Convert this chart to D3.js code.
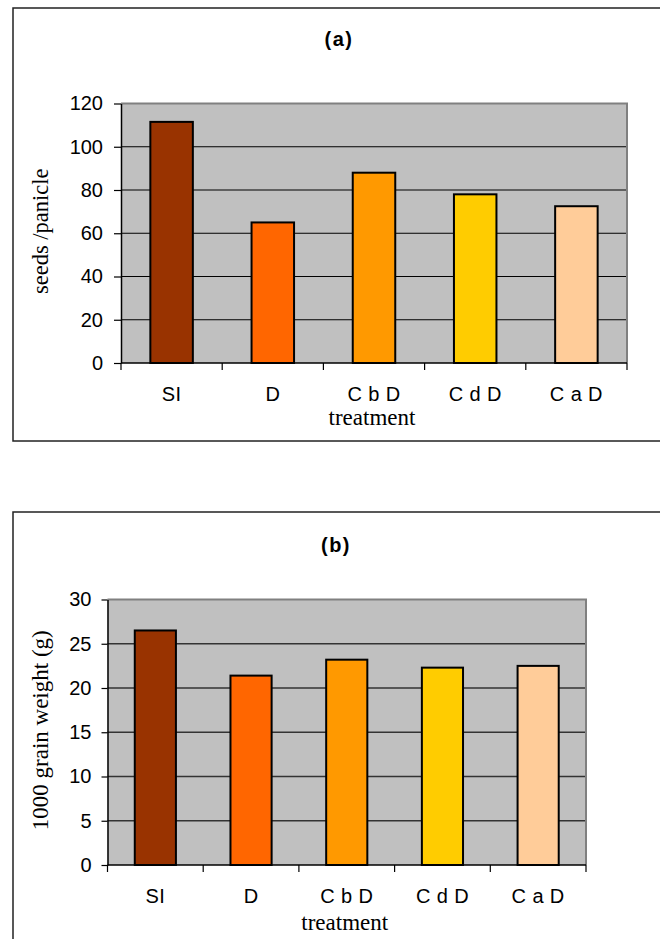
<!DOCTYPE html>
<html>
<head>
<meta charset="utf-8">
<script src="https://cdn.jsdelivr.net/npm/d3@7"></script>
<style>
  html, body { margin: 0; padding: 0; background: #fff; }
  svg { display: block; }
</style>
</head>
<body>
<svg id="chart" width="660" height="939"></svg>
<script>
// ---- data ----
const categories = ["SI", "D", "C b D", "C d D", "C a D"];
const seedsPerPanicle = [111.5, 65, 88, 78, 72.5];
const grainWeight = [26.5, 21.4, 23.2, 22.3, 22.5];
const barColors = ["#993300", "#FF6600", "#FF9900", "#FFCC00", "#FFCC99"];
const ticksA = [0, 20, 40, 60, 80, 100, 120];
const ticksB = [0, 5, 10, 15, 20, 25, 30];
const titles = ["(a)", "(b)"];
const yTitles = ["seeds /panicle", "1000 grain weight (g)"];
const xTitle = "treatment";

const svg = d3.select("#chart");

const panels = [
  { values: seedsPerPanicle, ticks: ticksA, max: 120, title: titles[0], yTitle: yTitles[0],
    box: { x: 13, y: 8, w: 660, h: 433 },
    plot: { l: 121, r: 627, t: 103.5, b: 363 },
    titleX: 339, titleY: 46, pin: 0.58, tickPad: 11, tickLen: 7,
    yTitleX: 47.5, yTitleSize: 22.5, xTitleY: 425, gridColor: "#000", gridW: 1 },
  { values: grainWeight, ticks: ticksB, max: 30, title: titles[1], yTitle: yTitles[1],
    box: { x: 13, y: 512, w: 660, h: 440 },
    plot: { l: 107.5, r: 586, t: 599.5, b: 865 },
    titleX: 336, titleY: 552, pin: 0.57, tickPad: 10, tickLen: 6,
    yTitleX: 47.5, yTitleSize: 23, xTitleY: 929.5, gridColor: "#333", gridW: 1.4 }
];

panels.forEach(p => {
  const g = svg.append("g");
  // outer frame
  g.append("rect")
    .attr("x", p.box.x).attr("y", p.box.y)
    .attr("width", p.box.w).attr("height", p.box.h)
    .attr("fill", "none").attr("stroke", "#222").attr("stroke-width", 1.5);

  g.append("text")
    .attr("x", p.titleX).attr("y", p.titleY)
    .attr("text-anchor", "middle")
    .attr("font-family", "Liberation Sans, Arial, sans-serif")
    .attr("font-weight", "bold").attr("font-size", 20)
    .attr("letter-spacing", 1.5)
    .text(p.title);

  const x = d3.scaleBand().domain(categories)
    .range([p.plot.l, p.plot.r])
    .paddingInner(p.pin).paddingOuter(p.pin / 2);
  const y = d3.scaleLinear().domain([0, p.max]).range([p.plot.b, p.plot.t]);

  // plot background
  g.append("rect")
    .attr("x", p.plot.l).attr("y", y(p.max))
    .attr("width", p.plot.r - p.plot.l).attr("height", y(0) - y(p.max))
    .attr("fill", "#C0C0C0");

  // gridlines
  g.append("g").selectAll("line")
    .data(p.ticks.filter(t => t > 0 && t < p.max))
    .join("line")
    .attr("x1", p.plot.l).attr("x2", p.plot.r)
    .attr("y1", d => y(d)).attr("y2", d => y(d))
    .attr("stroke", p.gridColor).attr("stroke-width", p.gridW);

  // top & right border of plot area
  g.append("path")
    .attr("d", `M${p.plot.l},${y(p.max)}H${p.plot.r}V${y(0)}`)
    .attr("fill", "none").attr("stroke", "#808080").attr("stroke-width", 2);

  // bars
  g.append("g").selectAll("rect")
    .data(p.values)
    .join("rect")
    .attr("x", (d, i) => x(categories[i]))
    .attr("y", d => y(d))
    .attr("width", x.bandwidth())
    .attr("height", d => y(0) - y(d))
    .attr("fill", (d, i) => barColors[i])
    .attr("stroke", "#000").attr("stroke-width", 2);

  // y axis
  const yAxis = d3.axisLeft(y).tickValues(p.ticks)
    .tickSize(p.tickLen).tickPadding(p.tickPad).tickSizeOuter(0);
  const ya = g.append("g").attr("transform", `translate(${p.plot.l},0)`).call(yAxis);
  ya.select(".domain").attr("stroke", "#000").attr("stroke-width", 1.5);
  ya.selectAll(".tick line").attr("stroke", "#000").attr("stroke-width", 1.2);
  ya.selectAll(".tick text")
    .attr("font-family", "Liberation Sans, Arial, sans-serif")
    .attr("font-size", 20).attr("fill", "#000");

  // x axis (ticks at category boundaries)
  const gap = (x.step() - x.bandwidth()) / 2;
  const bounds = categories.map(c => x(c) - gap).concat([p.plot.r]);
  const xa = g.append("g");
  xa.append("line")
    .attr("x1", p.plot.l).attr("x2", p.plot.r)
    .attr("y1", y(0)).attr("y2", y(0))
    .attr("stroke", "#000").attr("stroke-width", 1.5);
  xa.selectAll("line.tk").data(bounds).join("line").attr("class", "tk")
    .attr("x1", d => d).attr("x2", d => d)
    .attr("y1", y(0)).attr("y2", y(0) + 7)
    .attr("stroke", "#000").attr("stroke-width", 1.2);
  xa.selectAll("text").data(categories).join("text")
    .attr("x", d => x(d) + x.bandwidth() / 2)
    .attr("y", y(0) + 37.5)
    .attr("text-anchor", "middle")
    .attr("font-family", "Liberation Sans, Arial, sans-serif")
    .attr("font-size", 20)
    .attr("letter-spacing", 0.4)
    .text(d => d);

  // axis titles
  g.append("text")
    .attr("x", (p.plot.l + p.plot.r) / 2 - 2).attr("y", p.xTitleY)
    .attr("text-anchor", "middle")
    .attr("font-family", "Liberation Serif, Times New Roman, serif")
    .attr("font-size", 23)
    .text(xTitle);

  g.append("text")
    .attr("transform", `translate(${p.yTitleX},${(p.plot.t + p.plot.b) / 2 - 2}) rotate(-90)`)
    .attr("text-anchor", "middle")
    .attr("font-family", "Liberation Serif, Times New Roman, serif")
    .attr("font-size", p.yTitleSize)
    .text(p.yTitle);
});
</script>
</body>
</html>
